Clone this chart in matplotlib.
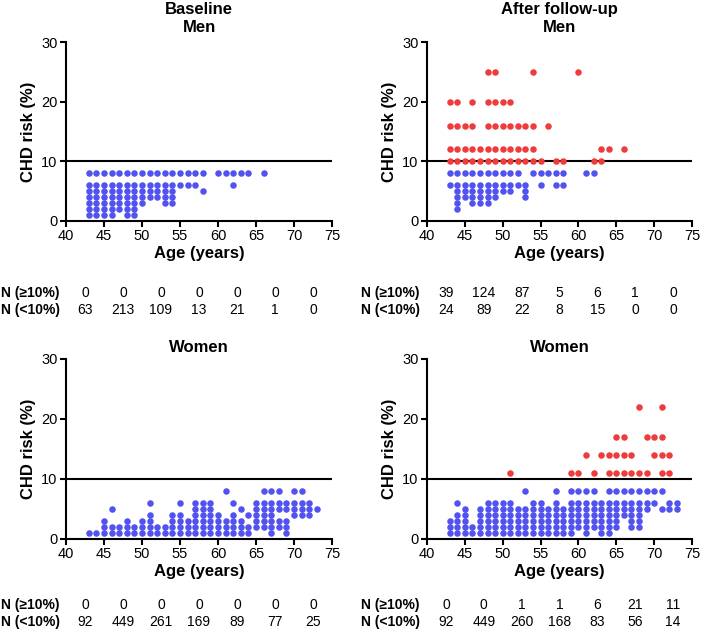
import matplotlib
matplotlib.use("Agg")
import matplotlib.pyplot as plt
import matplotlib.transforms as mtransforms

plt.rcParams['font.family'] = ['Liberation Sans', 'DejaVu Sans']

# dots: one column of risk values per age
men_base_ages = [43, 44, 45, 46, 47, 48, 49, 50, 51, 52, 53, 54, 55, 56, 57, 58, 60, 61, 62, 63, 64, 66]
men_base_risk = [[8, 6, 5, 4, 3, 2, 1], [8, 6, 5, 4, 3, 2, 1], [8, 6, 5, 4, 3, 2, 1], [8, 6, 5, 4, 3, 2, 1],
                 [8, 6, 5, 4, 3, 2], [8, 6, 5, 4, 3, 2, 1], [8, 6, 5, 4, 3, 2, 1], [8, 6, 5, 4, 3],
                 [8, 6, 5, 4], [8, 6, 5, 4], [8, 6, 5, 4, 3], [8, 6, 5, 4, 3], [8, 6], [8, 6], [8, 6],
                 [8, 5], [8], [8], [8, 6], [8], [8], [8]]

men_fu_ages = [43, 44, 45, 46, 47, 48, 49, 50, 51, 52, 53, 54, 55, 56, 57, 58, 60, 61, 62, 63, 64, 66]
men_fu_risk = [[20, 16, 12, 10, 8, 6], [20, 16, 12, 10, 8, 6, 5, 4, 3, 2], [16, 12, 10, 8, 6, 5, 4],
               [20, 16, 12, 10, 8, 6, 5, 4, 3], [12, 10, 8, 6, 5, 4, 3], [25, 20, 16, 12, 10, 8, 6, 5, 4, 3],
               [25, 20, 16, 12, 10, 8, 6, 5, 4], [20, 16, 12, 10, 8, 6, 5], [20, 16, 12, 10, 8, 6, 5],
               [16, 12, 10, 8, 6], [16, 12, 10, 6, 5, 4], [25, 16, 12, 10, 8], [10, 8, 6], [16, 8],
               [10, 8, 6], [10, 8, 6], [25], [8], [10, 8], [12, 10], [12], [12]]

women_base_ages = list(range(43, 74))
women_base_risk = [[1], [1], [3, 2, 1], [5, 2, 1], [2, 1], [3, 2, 1], [2, 1], [3, 2, 1], [6, 4, 3, 2, 1],
                   [2, 1], [2, 1], [4, 3, 2, 1], [6, 4, 3, 2, 1], [3, 2, 1], [6, 5, 4, 3, 2, 1],
                   [6, 5, 4, 3, 2, 1], [6, 5, 4, 3, 2, 1], [4, 3, 2, 1], [8, 3, 2, 1], [6, 4, 3, 2, 1],
                   [5, 3, 2, 1], [4, 2, 1], [6, 5, 4, 3, 2], [8, 6, 5, 4, 3, 2], [8, 6, 5, 4, 3, 2, 1],
                   [8, 6, 5, 3, 2], [6, 5, 3, 2, 1], [8, 6, 5, 4], [8, 6, 5, 4], [6, 5, 4], [5]]

women_fu_ages = list(range(43, 74))
women_fu_risk = [[3, 2, 1], [6, 4, 3, 2, 1], [5, 4, 3, 2, 1], [2, 1], [5, 4, 3, 2, 1], [6, 5, 4, 3, 2, 1],
                 [6, 5, 4, 3, 2, 1], [6, 5, 4, 3, 2, 1], [11, 6, 5, 4, 3, 2, 1], [5, 4, 3, 2, 1],
                 [8, 5, 4, 3, 2, 1], [6, 5, 4, 3, 2, 1], [6, 5, 4, 3, 2, 1], [5, 4, 3, 2, 1],
                 [8, 6, 5, 4, 3, 2, 1], [5, 4, 3, 2, 1], [11, 8, 6, 5, 4, 3, 2, 1], [11, 8, 6, 5, 4, 3, 2],
                 [14, 8, 6, 5, 4, 3, 2, 1], [11, 8, 6, 5, 4, 3, 2], [14, 6, 5, 4, 3, 2, 1],
                 [14, 11, 8, 6, 5, 4, 3, 2, 1], [17, 14, 11, 8, 6, 5, 4, 3, 2], [17, 14, 11, 8, 6, 5, 4],
                 [14, 11, 8, 6, 5, 4, 3, 2], [22, 11, 8, 6, 5, 4, 3, 2], [17, 11, 8, 6, 5], [17, 14, 8, 6],
                 [22, 17, 14, 11, 8, 5], [14, 11, 6, 5], [6, 5]]

# counts per 5-year age band (40-44 ... 70-74)
bin_centers = [42.5, 47.5, 52.5, 57.5, 62.5, 67.5, 72.5]
men_base_hi = [0, 0, 0, 0, 0, 0, 0]
men_base_lo = [63, 213, 109, 13, 21, 1, 0]
men_fu_hi = [39, 124, 87, 5, 6, 1, 0]
men_fu_lo = [24, 89, 22, 8, 15, 0, 0]
women_base_hi = [0, 0, 0, 0, 0, 0, 0]
women_base_lo = [92, 449, 261, 169, 89, 77, 25]
women_fu_hi = [0, 0, 1, 1, 6, 21, 11]
women_fu_lo = [92, 449, 260, 168, 83, 56, 14]

BLUE = '#5252F0'
RED = '#EE3C3C'

W, H = 703, 632
fig = plt.figure(figsize=(W / 100, H / 100), dpi=100)


def px_axes(x0, x1, y_top, y_bot):
    return fig.add_axes([x0 / W, (H - y_bot) / H, (x1 - x0) / W, (y_bot - y_top) / H])


def panel(ax, ages, risks, title, pad, hi, lo, row_y, label_x):
    xs_b, ys_b, xs_r, ys_r = [], [], [], []
    for a, col in zip(ages, risks):
        for r in col:
            if r >= 10:
                xs_r.append(a)
                ys_r.append(r)
            else:
                xs_b.append(a)
                ys_b.append(r)
    ax.scatter(xs_b, ys_b, s=22, color=BLUE, linewidths=0, zorder=3, clip_on=False)
    ax.scatter(xs_r, ys_r, s=22, color=RED, linewidths=0, zorder=3, clip_on=False)
    ax.axhline(10, color='black', lw=1.5, zorder=2)
    ax.set_xlim(40, 75)
    ax.set_ylim(0, 30)
    ax.set_xticks(range(40, 80, 5))
    ax.set_yticks([0, 10, 20, 30])
    for s in ['top', 'right']:
        ax.spines[s].set_visible(False)
    for s in ['left', 'bottom']:
        ax.spines[s].set_linewidth(1.5)
    ax.tick_params(width=1.5, length=4, labelsize=10.5, pad=2)
    ax.set_xlabel('Age (years)', fontsize=12, fontweight='bold', labelpad=2)
    ax.set_ylabel('CHD risk (%)', fontsize=12, fontweight='bold', labelpad=4)
    ax.set_title(title, fontsize=12, fontweight='bold', pad=pad, linespacing=1.25)

    trans = mtransforms.blended_transform_factory(ax.transData, fig.transFigure)
    for yy, vals in zip(row_y, [hi, lo]):
        for xc, v in zip(bin_centers, vals):
            ax.text(xc, 1 - yy / H, str(v), transform=trans, ha='center', va='center',
                    fontsize=10, clip_on=False)
    fig.text(label_x / W, 1 - row_y[0] / H, 'N (\u226510%)', fontsize=10, fontweight='bold',
             ha='left', va='center')
    fig.text(label_x / W, 1 - row_y[1] / H, 'N (<10%)', fontsize=10, fontweight='bold',
             ha='left', va='center')


ax1 = px_axes(66, 332, 42, 221)
ax2 = px_axes(427, 692, 42, 221)
ax3 = px_axes(66, 332, 359, 539)
ax4 = px_axes(427, 692, 359, 539)

panel(ax1, men_base_ages, men_base_risk, 'Baseline\nMen', 7, men_base_hi, men_base_lo, (293, 310), 1)
panel(ax2, men_fu_ages, men_fu_risk, 'After follow-up\nMen', 7, men_fu_hi, men_fu_lo, (293, 310), 361)
panel(ax3, women_base_ages, women_base_risk, 'Women', 5, women_base_hi, women_base_lo, (605, 622), 1)
panel(ax4, women_fu_ages, women_fu_risk, 'Women', 5, women_fu_hi, women_fu_lo, (605, 622), 361)

fig.savefig('out.png', dpi=100)
